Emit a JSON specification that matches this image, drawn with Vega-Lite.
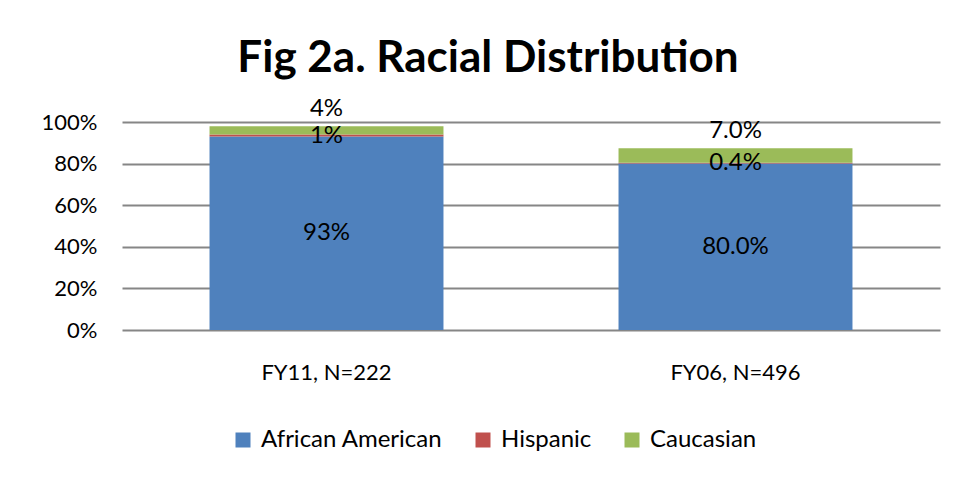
{
  "$schema": "https://vega.github.io/schema/vega-lite/v6.json",
  "width": 818,
  "height": 208,
  "autosize": "none",
  "padding": {"left": 122, "top": 122, "right": 18, "bottom": 147},
  "background": "white",
  "title": {
    "text": "Fig 2a. Racial Distribution",
    "font": "Lato",
    "fontSize": 44,
    "fontWeight": "bold",
    "color": "black",
    "anchor": "middle",
    "dx": -43,
    "offset": 16
  },
  "data": {
    "values": [
      {"cat": "FY11, N=222", "race": "African American", "order": 1, "value": 93, "label": "93%"},
      {"cat": "FY11, N=222", "race": "Hispanic", "order": 2, "value": 1, "label": "1%"},
      {"cat": "FY11, N=222", "race": "Caucasian", "order": 3, "value": 4, "label": "4%"},
      {"cat": "FY06, N=496", "race": "African American", "order": 1, "value": 80.0, "label": "80.0%"},
      {"cat": "FY06, N=496", "race": "Hispanic", "order": 2, "value": 0.4, "label": "0.4%"},
      {"cat": "FY06, N=496", "race": "Caucasian", "order": 3, "value": 7.0, "label": "7.0%"}
    ]
  },
  "transform": [
    {"stack": "value", "groupby": ["cat"], "sort": [{"field": "order", "order": "ascending"}], "as": ["v0", "v1"]},
    {"calculate": "(datum.v0 + datum.v1) / 2", "as": "mid"}
  ],
  "encoding": {
    "x": {
      "field": "cat",
      "type": "nominal",
      "sort": ["FY11, N=222", "FY06, N=496"],
      "scale": {"paddingInner": 0.428, "paddingOuter": 0.214},
      "axis": {
        "title": null,
        "labelAngle": 0,
        "ticks": false,
        "domain": false,
        "labelFont": "Lato",
        "labelFontSize": 22,
        "labelColor": "black",
        "labelPadding": 32
      }
    }
  },
  "layer": [
    {
      "mark": {"type": "bar"},
      "encoding": {
        "y": {
          "field": "v0",
          "type": "quantitative",
          "scale": {"domain": [0, 100]},
          "axis": {
            "title": null,
            "values": [0, 20, 40, 60, 80, 100],
            "labelExpr": "datum.value + '%'",
            "ticks": false,
            "domain": false,
            "grid": true,
            "gridColor": "#868686",
            "gridWidth": 2,
            "labelFont": "Lato",
            "labelFontSize": 22,
            "labelColor": "black",
            "labelPadding": 25
          }
        },
        "y2": {"field": "v1"},
        "color": {
          "field": "race",
          "type": "nominal",
          "scale": {
            "domain": ["African American", "Hispanic", "Caucasian"],
            "range": ["#4F81BD", "#C0504D", "#9BBB59"]
          },
          "legend": {
            "title": null,
            "orient": "none",
            "direction": "horizontal",
            "legendX": 109,
            "legendY": 306,
            "symbolType": "square",
            "symbolSize": 225,
            "symbolStrokeWidth": 0,
            "labelFont": "Lato",
            "labelFontSize": 24,
            "labelLimit": 0,
            "labelColor": "black",
            "labelOffset": 6,
            "columnPadding": 28
          }
        }
      }
    },
    {
      "transform": [{"filter": "datum.race !== 'Caucasian'"}],
      "mark": {"type": "text", "font": "Lato", "fontSize": 24, "color": "black", "baseline": "middle"},
      "encoding": {
        "y": {"field": "mid", "type": "quantitative"},
        "text": {"field": "label"}
      }
    },
    {
      "transform": [{"filter": "datum.race === 'Caucasian'"}],
      "mark": {"type": "text", "font": "Lato", "fontSize": 24, "color": "black", "baseline": "middle", "dy": -17},
      "encoding": {
        "y": {"field": "v1", "type": "quantitative"},
        "text": {"field": "label"}
      }
    }
  ],
  "config": {"view": {"stroke": null}}
}
